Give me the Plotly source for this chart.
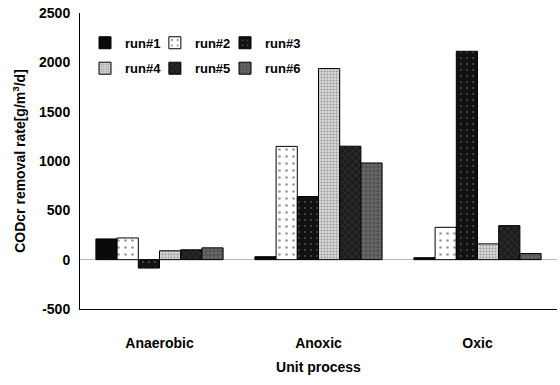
import plotly.graph_objects as go

categories = ["Anaerobic", "Anoxic", "Oxic"]
run_names = ["run#1", "run#2", "run#3", "run#4", "run#5", "run#6"]
run1 = [210, 30, 20]
run2 = [220, 1148, 328]
run3 = [-85, 640, 2112]
run4 = [90, 1937, 160]
run5 = [100, 1150, 345]
run6 = [120, 980, 62]
y_ticks = [-500, 0, 500, 1000, 1500, 2000, 2500]
y_tick_labels = ["-500", "0", "500", "1000", "1500", "2000", "2500"]

series = [run1, run2, run3, run4, run5, run6]
styles = [
    dict(color="#0a0a0a", pattern=dict(shape="")),
    dict(color="#ffffff", pattern=dict(shape=".", fgcolor="#333333", size=7, solidity=0.12)),
    dict(color="#111111", pattern=dict(shape=".", fgcolor="#888888", size=6, solidity=0.1)),
    dict(color="#d8d8d8", pattern=dict(shape=".", fgcolor="#555555", size=3, solidity=0.35)),
    dict(color="#1c1c1c", pattern=dict(shape="x", fgcolor="#666666", size=5, solidity=0.2)),
    dict(color="#6a6a6a", pattern=dict(shape="+", fgcolor="#2a2a2a", size=4, solidity=0.4)),
]

FONT = "Arial, Liberation Sans, sans-serif"
legend_ids = ["legend", "legend2", "legend3", "legend4", "legend5", "legend6"]
legend_x = [0.0105, 0.157, 0.304, 0.0105, 0.157, 0.304]
legend_y = [0.95, 0.95, 0.95, 0.864, 0.864, 0.864]

fig = go.Figure()
for i, (name, vals, st) in enumerate(zip(run_names, series, styles)):
    fig.add_trace(go.Bar(
        x=categories, y=vals, name=name, showlegend=True,
        marker=dict(color=st["color"], pattern=st["pattern"],
                    line=dict(color="#000000", width=1)),
        legend=legend_ids[i],
    ))

legend_common = dict(
    orientation="h", xanchor="left", yanchor="top",
    font=dict(family=FONT, size=13, color="#000", weight="bold"),
    bgcolor="rgba(0,0,0,0)", itemwidth=30,
)
legends = {
    lid: dict(x=lx, y=ly, **legend_common)
    for lid, lx, ly in zip(legend_ids, legend_x, legend_y)
}
fig.update_layout(
    width=560, height=385,
    margin=dict(l=80, r=3, t=13, b=76),
    plot_bgcolor="#ffffff", paper_bgcolor="#ffffff",
    barmode="group", bargap=0.2, bargroupgap=0,
    showlegend=True,
    font=dict(family=FONT, size=13, color="#000"),
    **legends,
    xaxis=dict(
        showline=True, linecolor="#000", linewidth=1, mirror=False,
        ticks="outside", ticklen=21, tickcolor="rgba(0,0,0,0)",
        tickfont=dict(family=FONT, size=14, weight="bold"),
        title=dict(text="Unit process", font=dict(family=FONT, size=14, weight="bold"), standoff=12),
    ),
    yaxis=dict(
        range=[-500, 2500], tickvals=y_ticks, ticktext=y_tick_labels, showgrid=False,
        showline=True, linecolor="#000", linewidth=1,
        zeroline=True, zerolinecolor="#bbbbbb", zerolinewidth=1,
        ticks="outside", ticklen=6, tickcolor="rgba(0,0,0,0)",
        tickfont=dict(family=FONT, size=14, weight="bold"),
        title=dict(text="CODcr removal rate[g/m<sup>3</sup>/d]",
                   font=dict(family=FONT, size=14, weight="bold"), standoff=10),
    ),
)
fig.write_html("out.html")
